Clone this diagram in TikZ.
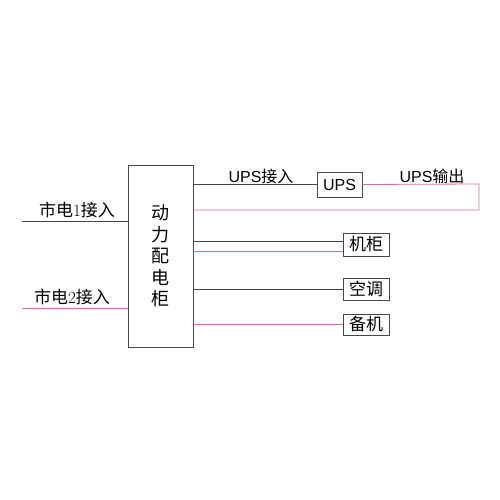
\documentclass[tikz,border=0pt]{standalone}
\usepackage{fontspec}
\newfontfamily\cjk{Noto Sans CJK SC}
\newfontfamily\arial{Liberation Sans}
\usetikzlibrary{positioning}
\definecolor{linepink}{RGB}{222,110,135}
\definecolor{lineblack}{RGB}{70,70,70}

\begin{document}
\begin{tikzpicture}[x=1pt, y=-1pt,
    box/.style={rectangle, draw=lineblack, fill=white, text=black, inner sep=0pt, line width=0.7pt},
    unit/.style={box, minimum width=46pt, font=\cjk\fontsize{17}{17}\selectfont},
    lbl/.style={text=black, inner sep=0pt},
    blk/.style={draw=lineblack, line width=0.7pt},
    pnk/.style={draw=linepink, line width=0.8pt}
]
\useasboundingbox (0,0) rectangle (500,500);

% power distribution cabinet
\node [box, minimum width=65pt, minimum height=182pt, align=center,
    font=\cjk\fontsize{18}{21.5}\selectfont] (pdc) at (160.5,256) {动\\力\\配\\电\\柜};

% ups and loads
\node [box, minimum width=45pt, minimum height=25pt, font=\arial\fontsize{16}{16}\selectfont] (ups) at (339.5,184.5) {UPS};
\node [unit, minimum height=23pt] (jg) at (366,244.5) {机柜};
\node [unit, minimum height=22pt] (kt) at (366,289) {空调};
\node [unit, minimum height=21pt] (bj) at (366,324.5) {备机};

% mains feeds
\coordinate (in1) at (22,221);
\coordinate (in2) at (22,308);
\draw [blk] (in1) -- (in1 -| pdc.west);
\draw [pnk] (in2) -- (in2 -| pdc.west);
\node [lbl, font=\cjk\fontsize{17}{17}\selectfont] (l1) at (77,210) {市电{\rmfamily 1}接入};
\node [lbl, font=\cjk\fontsize{17}{17}\selectfont] (l2) at (72,297) {市电{\rmfamily 2}接入};

% ups loop
\coordinate (c1) at (479,184);
\coordinate (c2) at (479,210);
\draw [blk] (pdc.east |- ups.west) -- (ups.west);
\draw [pnk] (ups.east) -- (c1) -- (c2) -- (c2 -| pdc.east);
\node [lbl, font=\fontsize{16}{16}\selectfont] (upsin) at (261,176) {{\arial UPS}\cjk 接入};
\node [lbl, font=\fontsize{16}{16}\selectfont] (upsout) at (432,176) {{\arial UPS}\cjk 输出};

% load feeds
\draw [blk] ([yshift=3.5pt]jg.west) -- ([yshift=3.5pt]jg.west -| pdc.east);
\draw [pnk] ([yshift=-6.5pt]jg.west) -- ([yshift=-6.5pt]jg.west -| pdc.east);
\draw [blk] (kt.west) -- (kt.west -| pdc.east);
\draw [pnk] (bj.west) -- (bj.west -| pdc.east);
\end{tikzpicture}
\end{document}
